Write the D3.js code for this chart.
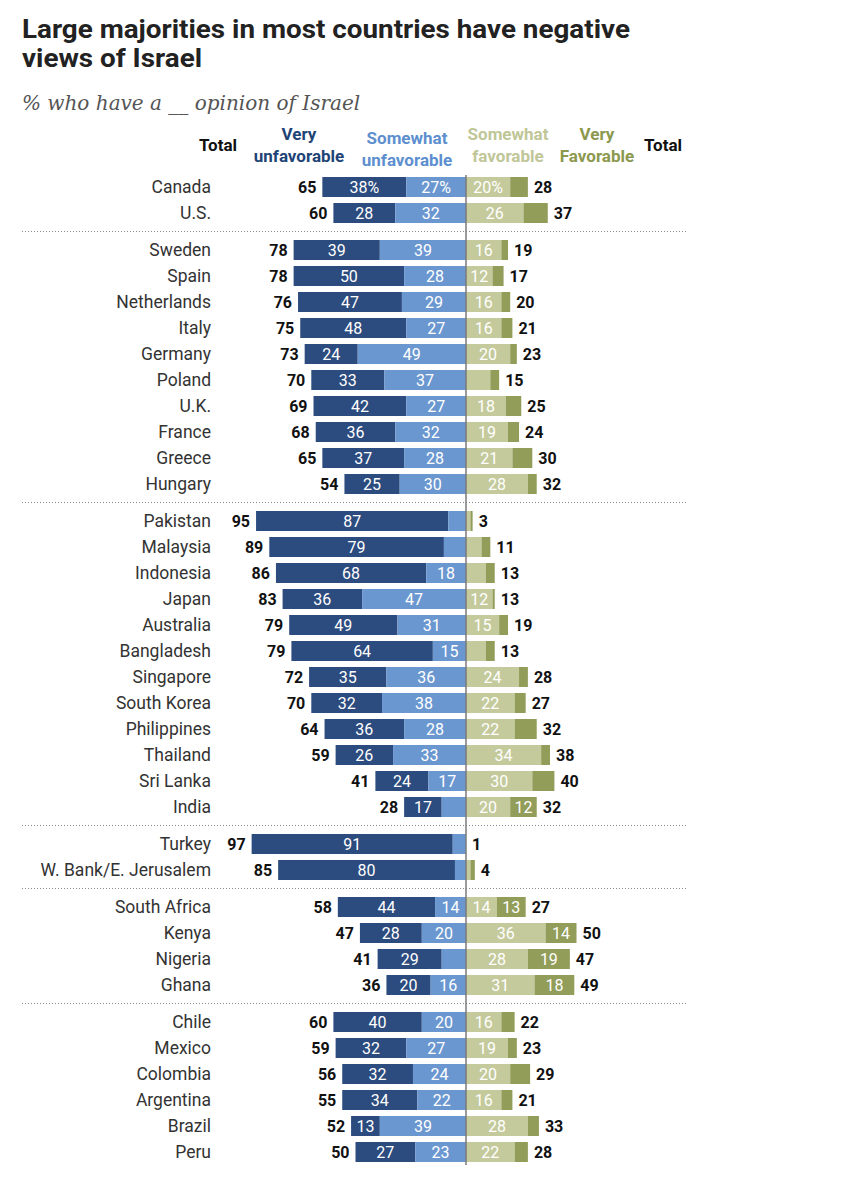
<!DOCTYPE html>
<html>
<head>
<meta charset="utf-8">
<script src="https://cdn.jsdelivr.net/npm/d3@7"></script>
<style>
  body { margin: 0; background: #fff; }
  text { font-family: Roboto, "Noto Sans", sans-serif; }
</style>
</head>
<body>
<div id="chart"></div>
<script>
// rows, top to bottom
var countries = ["Canada", "U.S.",
  "Sweden", "Spain", "Netherlands", "Italy", "Germany", "Poland", "U.K.", "France", "Greece", "Hungary",
  "Pakistan", "Malaysia", "Indonesia", "Japan", "Australia", "Bangladesh", "Singapore", "South Korea",
  "Philippines", "Thailand", "Sri Lanka", "India",
  "Turkey", "W. Bank/E. Jerusalem",
  "South Africa", "Kenya", "Nigeria", "Ghana",
  "Chile", "Mexico", "Colombia", "Argentina", "Brazil", "Peru"];
var groupOf = [0, 0,
  1, 1, 1, 1, 1, 1, 1, 1, 1, 1,
  2, 2, 2, 2, 2, 2, 2, 2, 2, 2, 2, 2,
  3, 3,
  4, 4, 4, 4,
  5, 5, 5, 5, 5, 5];

var veryUnfav = [38, 28, 39, 50, 47, 48, 24, 33, 42, 36, 37, 25, 87, 79, 68, 36, 49, 64, 35, 32, 36, 26, 24, 17, 91, 80, 44, 28, 29, 20, 40, 32, 32, 34, 13, 27];
var someUnfav = [27, 32, 39, 28, 29, 27, 49, 37, 27, 32, 28, 30, 8, 10, 18, 47, 31, 15, 36, 38, 28, 33, 17, 11, 6, 5, 14, 20, 11, 16, 20, 27, 24, 22, 39, 23];
var someFav = [20, 26, 16, 12, 16, 16, 20, 11, 18, 19, 21, 28, 2, 7, 9, 12, 15, 9, 24, 22, 22, 34, 30, 20, 0, 2, 14, 36, 28, 31, 16, 19, 20, 16, 28, 22];
var veryFav = [8, 11, 3, 5, 4, 5, 3, 4, 7, 5, 9, 4, 1, 4, 4, 1, 4, 4, 4, 5, 10, 4, 10, 12, 0, 2, 13, 14, 19, 18, 6, 4, 9, 5, 5, 6];
var totalUnfav = [65, 60, 78, 78, 76, 75, 73, 70, 69, 68, 65, 54, 95, 89, 86, 83, 79, 79, 72, 70, 64, 59, 41, 28, 97, 85, 58, 47, 41, 36, 60, 59, 56, 55, 52, 50];
var totalFav = [28, 37, 19, 17, 20, 21, 23, 15, 25, 24, 30, 32, 3, 11, 13, 13, 19, 13, 28, 27, 32, 38, 40, 32, 1, 4, 27, 50, 47, 49, 22, 23, 29, 21, 33, 28];

var segColors = ["#2c4b7e", "#6b97d0", "#c4ca9c", "#929d5a"];
var headColors = ["#1e4476", "#5d8fcf", "#bfc697", "#8c984e"];

var width = 856, height = 1200;
var cx = 466;
var barH = 20;

var svg = d3.select("#chart").append("svg")
  .attr("width", width)
  .attr("height", height);

// title, squeezed to the condensed width of the original
var title = svg.append("g").attr("transform", "translate(22,0)");
title.append("text").attr("x", 0).attr("y", 38)
  .text("Large majorities in most countries have negative");
title.append("text").attr("x", 0).attr("y", 67)
  .text("views of Israel");
title.selectAll("text")
  .style("font-size", "25px").style("font-weight", 700).style("fill", "#222");
var natural = title.select("text").node().getComputedTextLength();
title.attr("transform", "translate(22,0) scale(" + (608 / natural) + ",1)");

svg.append("text")
  .attr("x", 22).attr("y", 110)
  .style("font-family", "'DejaVu Serif', serif")
  .style("font-style", "italic")
  .style("font-size", "20px")
  .style("fill", "#555")
  .text("% who have a __ opinion of Israel");

// scales
var xs = d3.scaleLinear().domain([0, 100]).range([0, 221]);
var ys = d3.scaleLinear().domain([0, 1]).range([187, 213]);
var slot = function(i) { return i + groupOf[i] * 11 / 26; };

// column headers
var heads = [
  { lines: ["Total"], x: 218, y: 151, color: "#111" },
  { lines: ["Very", "unfavorable"], x: 299, y: 140, color: headColors[0] },
  { lines: ["Somewhat", "unfavorable"], x: 407, y: 144, color: headColors[1] },
  { lines: ["Somewhat", "favorable"], x: 508, y: 140, color: headColors[2] },
  { lines: ["Very", "Favorable"], x: 597, y: 140, color: headColors[3] },
  { lines: ["Total"], x: 663, y: 151, color: "#111" }
];
heads.forEach(function(h) {
  var t = svg.append("text")
    .attr("text-anchor", "middle")
    .style("font-size", "17px").style("font-weight", 700)
    .style("fill", h.color);
  h.lines.forEach(function(l, k) {
    t.append("tspan").attr("x", h.x).attr("y", h.y + k * 22).text(l);
  });
});

// group dividers
var dividerY = [];
for (var i = 1; i < countries.length; i++) {
  if (groupOf[i] != groupOf[i - 1]) dividerY.push((ys(slot(i - 1)) + ys(slot(i))) / 2);
}
svg.selectAll(".divider")
  .data(dividerY)
  .enter()
  .append("line")
  .attr("class", "divider")
  .attr("x1", 22).attr("x2", 686)
  .attr("y1", function(d) { return d; })
  .attr("y2", function(d) { return d; })
  .style("stroke", "#8a8a8a")
  .style("stroke-width", 1)
  .style("stroke-dasharray", "1,2");

// stacked segments per row
var rows = countries.map(function(c, i) {
  var vals = [veryUnfav[i], someUnfav[i], someFav[i], veryFav[i]];
  var segs = [
    { k: 0, v: vals[0], x0: -(vals[0] + vals[1]), x1: -vals[1] },
    { k: 1, v: vals[1], x0: -vals[1], x1: 0 },
    { k: 2, v: vals[2], x0: 0, x1: vals[2] },
    { k: 3, v: vals[3], x0: vals[2], x1: vals[2] + vals[3] }
  ];
  return { name: c, i: i, segs: segs };
});

var row = svg.selectAll(".row")
  .data(rows)
  .enter()
  .append("g")
  .attr("class", "row")
  .attr("transform", function(d) { return "translate(0," + ys(slot(d.i)) + ")"; });

row.append("text")
  .attr("x", 211).attr("dy", "0.36em")
  .attr("text-anchor", "end")
  .style("font-size", "17.5px")
  .style("fill", "#333")
  .text(function(d) { return d.name; });

var seg = row.selectAll(".seg")
  .data(function(d) { return d.segs.map(function(s) { s.first = d.i == 0; return s; }); })
  .enter();

seg.append("rect")
  .attr("x", function(d) { return cx + Math.sign(d.x0) * xs(Math.abs(d.x0)); })
  .attr("y", -barH / 2)
  .attr("width", function(d) { return xs(d.x1 - d.x0); })
  .attr("height", barH)
  .style("fill", function(d) { return segColors[d.k]; });

seg.filter(function(d) { return d.v >= 12; })
  .append("text")
  .attr("x", function(d) {
    var m = (d.x0 + d.x1) / 2;
    return cx + Math.sign(m) * xs(Math.abs(m));
  })
  .attr("dy", "0.36em")
  .attr("text-anchor", "middle")
  .style("font-size", "16px")
  .style("fill", "#fff")
  .text(function(d) { return d.first ? d.v + "%" : d.v; });

// totals
row.append("text")
  .attr("x", function(d) { return cx - xs(veryUnfav[d.i] + someUnfav[d.i]) - 6; })
  .attr("dy", "0.36em")
  .attr("text-anchor", "end")
  .style("font-size", "16px").style("font-weight", 700)
  .style("fill", "#111")
  .text(function(d) { return totalUnfav[d.i]; });

row.append("text")
  .attr("x", function(d) { return cx + xs(someFav[d.i] + veryFav[d.i]) + 6; })
  .attr("dy", "0.36em")
  .attr("text-anchor", "start")
  .style("font-size", "16px").style("font-weight", 700)
  .style("fill", "#111")
  .text(function(d) { return totalFav[d.i]; });

// centre line
svg.append("line")
  .attr("x1", cx).attr("x2", cx)
  .attr("y1", 175).attr("y2", 1165)
  .style("stroke", "#7a7a7a")
  .style("stroke-width", 1.5);
</script>
</body>
</html>
